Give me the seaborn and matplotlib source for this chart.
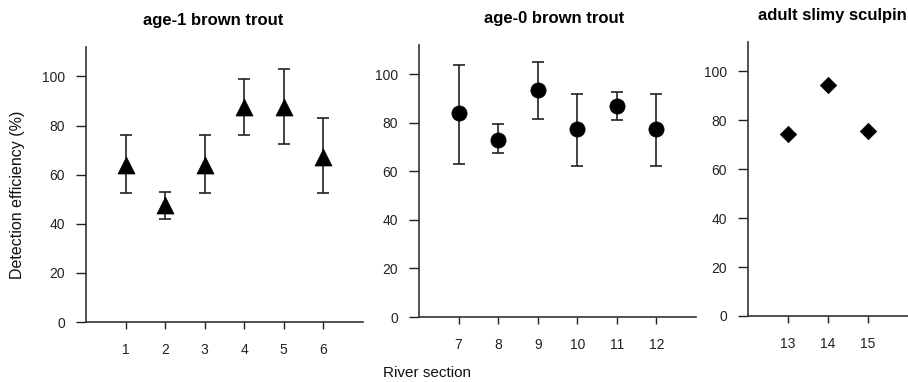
import matplotlib
matplotlib.use("Agg")
import matplotlib.pyplot as plt
import seaborn as sns
import pandas as pd

# age-1 brown trout (sections 1-6)
sec_age1 = [1, 2, 3, 4, 5, 6]
eff_age1 = [64, 47.5, 64, 87.5, 87.5, 67]
low_age1 = [52.5, 42, 52.5, 76, 72.5, 52.5]
high_age1 = [76, 53, 76, 99, 103, 83]

# age-0 brown trout (sections 7-12)
sec_age0 = [7, 8, 9, 10, 11, 12]
eff_age0 = [84, 73, 93.5, 77.5, 87, 77.5]
low_age0 = [63, 67.5, 81.5, 62, 81, 62]
high_age0 = [104, 79.5, 105, 92, 92.5, 92]

# adult slimy sculpin (sections 13-15), no error bars
sec_scul = [13, 14, 15]
eff_scul = [74.5, 94.3, 75.5]

yticks = [0, 20, 40, 60, 80, 100]

sns.set_theme(style="ticks")
plt.rcParams['font.family'] = ['Liberation Sans', 'DejaVu Sans']

fig = plt.figure(figsize=(9.08, 3.82), dpi=100)

paneles = [
    dict(rect=[0.0947, 0.157, 0.305, 0.720], xlim=(0, 7), sec=sec_age1, eff=eff_age1,
         low=low_age1, high=high_age1, marker='^', size=150, title='age-1 brown trout', tx=0.458),
    dict(rect=[0.4615, 0.170, 0.305, 0.712], xlim=(6, 13), sec=sec_age0, eff=eff_age0,
         low=low_age0, high=high_age0, marker='o', size=120, title='age-0 brown trout', tx=0.486),
    dict(rect=[0.8238, 0.173, 0.1762, 0.717], xlim=(12, 16), sec=sec_scul, eff=eff_scul,
         low=None, high=None, marker='D', size=70, title='adult slimy sculpin', tx=0.53),
]

for p in paneles:
    ax = fig.add_axes(p['rect'])
    df = pd.DataFrame({'seccion': p['sec'], 'eficiencia': p['eff']})

    # Barras de error (asimetricas)
    if p['low'] is not None:
        err_inf = [e - l for e, l in zip(p['eff'], p['low'])]
        err_sup = [h - e for e, h in zip(p['eff'], p['high'])]
        ax.errorbar(p['sec'], p['eff'], yerr=[err_inf, err_sup], fmt='none',
                    ecolor='#222222', elinewidth=1.2, capsize=4.5, capthick=1.2, zorder=2)

    sns.scatterplot(data=df, x='seccion', y='eficiencia', marker=p['marker'], s=p['size'],
                    color='black', edgecolor='black', linewidth=0.5, ax=ax, zorder=3, legend=False)

    ax.set_xlim(*p['xlim'])
    ax.set_ylim(0, 112)
    ax.set_xticks(p['sec'])
    ax.set_yticks(yticks)
    ax.set_xlabel('')
    ax.set_ylabel('')
    ax.tick_params(axis='y', direction='out', length=7, width=1, pad=8, labelsize=10, colors='#222222')
    ax.tick_params(axis='x', direction='out', length=5, width=1, pad=10, labelsize=10, colors='#222222')
    for lado in ['left', 'bottom']:
        ax.spines[lado].set_linewidth(1.2)
        ax.spines[lado].set_color('#333333')
    sns.despine(ax=ax)
    ax.text(p['tx'], 1.07, p['title'], transform=ax.transAxes, ha='center', va='bottom',
            fontsize=12, fontweight='bold', color='black')

fig.text(0.019, 0.49, 'Detection efficiency (%)', rotation=90, ha='center', va='center',
         fontsize=11.5, color='#111111')
fig.text(0.47, 0.005, 'River section', ha='center', va='bottom', fontsize=11, color='#111111')

plt.savefig('out.png', dpi=100)
